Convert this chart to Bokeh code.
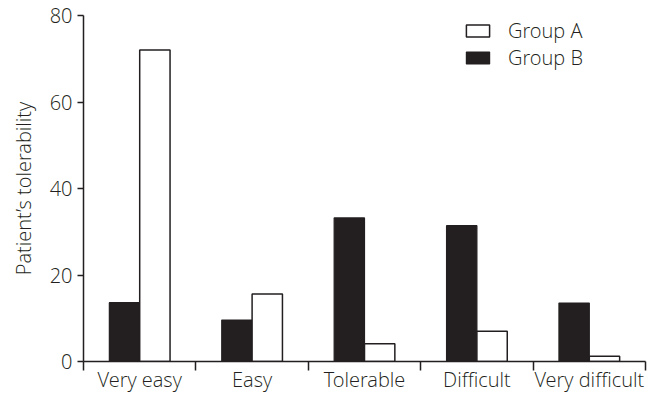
from bokeh.plotting import figure
from bokeh.models import Range1d, FixedTicker, Legend, LegendItem
from bokeh.embed import file_html
from bokeh.resources import INLINE

categories = ["Very easy", "Easy", "Tolerable", "Difficult", "Very difficult"]
group_a = [72.0, 15.6, 4.1, 7.0, 1.2]
group_b = [13.6, 9.6, 33.2, 31.4, 13.5]
y_ticks = [0, 20, 40, 60, 80]

FONT = "Open Sans Light, Roboto Light"
INK = "#231f20"
bar_w = 0.27

centers = [i + 0.5 for i in range(len(categories))]
xa = [c + bar_w / 2 for c in centers]
xb = [c - bar_w / 2 for c in centers]

p = figure(width=648, height=395, output_backend="svg", toolbar_location=None,
           x_range=Range1d(0, len(categories)), y_range=Range1d(0, 80),
           min_border_left=83, min_border_right=3, min_border_top=15, min_border_bottom=30)
p.outline_line_color = None
p.xgrid.visible = False
p.ygrid.visible = False

rb = p.vbar(x=xb, top=group_b, width=bar_w, bottom=0, fill_color=INK, line_color=INK, line_width=1.2)
ra = p.vbar(x=xa, top=group_a, width=bar_w, bottom=0, fill_color="white", line_color=INK, line_width=1.5)

xt = FixedTicker(ticks=centers, minor_ticks=list(range(len(categories) + 1)))
p.xaxis.ticker = xt
p.xaxis.major_label_overrides = {c: lab for c, lab in zip(centers, categories)}
p.xaxis.major_tick_out = 0
p.xaxis.major_tick_in = 0
p.xaxis.minor_tick_out = 9
p.xaxis.minor_tick_in = 0
p.xaxis.minor_tick_line_color = INK
p.xaxis.minor_tick_line_width = 1.5

p.yaxis.ticker = FixedTicker(ticks=y_ticks, minor_ticks=[])
p.yaxis.major_tick_out = 6
p.yaxis.major_tick_in = 0
p.yaxis.axis_label = "Patient\u2019s tolerability"

for ax in (p.xaxis, p.yaxis):
    ax.axis_line_color = INK
    ax.axis_line_width = 1.5
    ax.major_tick_line_color = INK
    ax.major_tick_line_width = 1.5
    ax.major_label_text_font = FONT
    ax.major_label_text_font_size = "20px"
    ax.major_label_text_color = INK

p.yaxis.axis_label_text_font = FONT
p.yaxis.axis_label_text_font_size = "20px"
p.yaxis.axis_label_text_font_style = "normal"
p.yaxis.axis_label_text_color = INK
p.yaxis.axis_label_standoff = 10
p.yaxis.major_label_standoff = 5
p.xaxis.major_label_standoff = -5

legend = Legend(items=[LegendItem(label="Group A", renderers=[ra]),
                       LegendItem(label="Group B", renderers=[rb])],
                location=(380, 290), glyph_width=29, glyph_height=15,
                label_standoff=16, spacing=-1, padding=0, margin=0,
                border_line_color=None, background_fill_alpha=0,
                label_text_font=FONT, label_text_font_size="20px", label_text_color=INK)
p.add_layout(legend)

open("out.html", "w").write(file_html(p, INLINE))
